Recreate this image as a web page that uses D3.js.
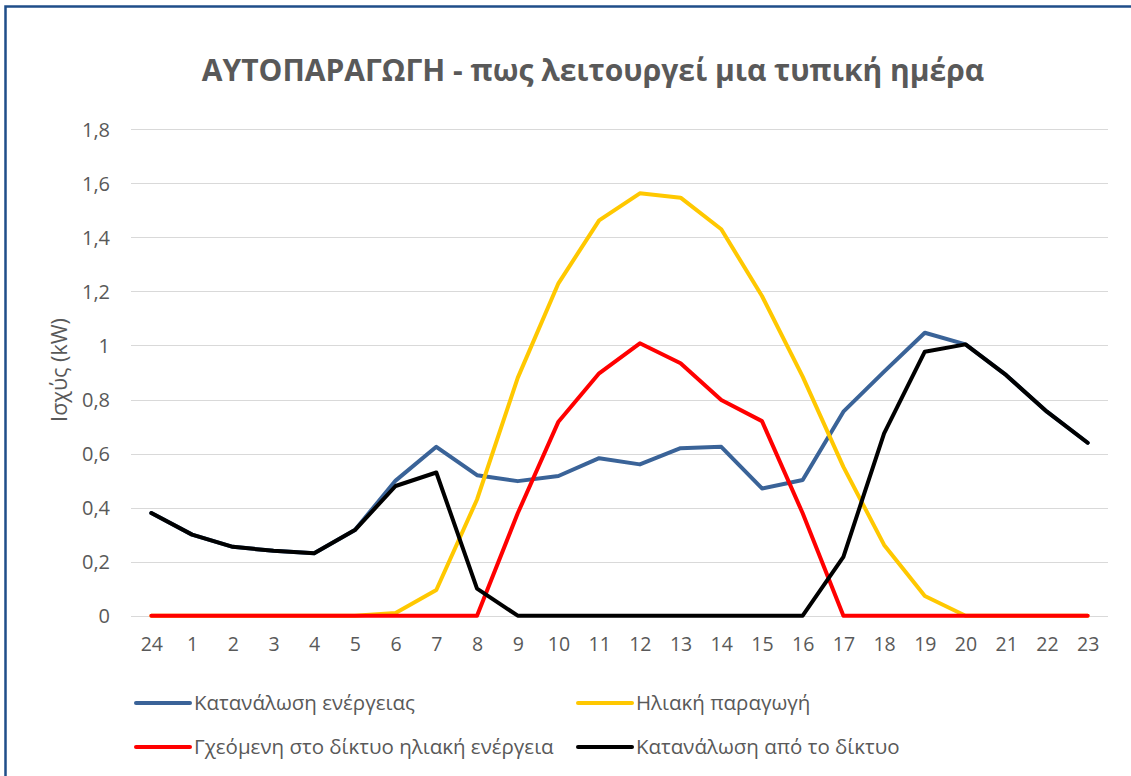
<!DOCTYPE html>
<html>
<head>
<meta charset="utf-8">
<script src="https://cdn.jsdelivr.net/npm/d3@7"></script>
<style>
  html, body { margin: 0; padding: 0; background: #fff; }
  svg text { font-family: "Open Sans", "Noto Sans", sans-serif; }
</style>
</head>
<body>
<svg id="chart" width="1131" height="776"></svg>
<script>
const hours = ["24","1","2","3","4","5","6","7","8","9","10","11","12","13","14","15","16","17","18","19","20","21","22","23"];
const consumption = [0.38,0.30,0.255,0.24,0.231,0.317,0.50,0.625,0.52,0.498,0.517,0.583,0.56,0.62,0.625,0.471,0.502,0.755,0.903,1.047,1.004,0.89,0.755,0.64];
const solar = [0,0,0,0,0,0,0.01,0.095,0.43,0.88,1.23,1.463,1.563,1.547,1.43,1.183,0.885,0.551,0.262,0.073,0,0,0,0];
const injected = [0,0,0,0,0,0,0,0,0,0.379,0.718,0.897,1.008,0.934,0.798,0.72,0.379,0,0,0,0,0,0,0];
const fromGrid = [0.38,0.30,0.255,0.24,0.231,0.317,0.48,0.53,0.10,0,0,0,0,0,0,0,0,0.218,0.675,0.977,1.004,0.89,0.755,0.64];
const yTicks = [0,0.2,0.4,0.6,0.8,1,1.2,1.4,1.6,1.8];
const seriesNames = ["Κατανάλωση ενέργειας","Ηλιακή παραγωγή","Γχεόμενη στο δίκτυο ηλιακή ενέργεια","Κατανάλωση από το δίκτυο"];
const seriesColors = ["#3A6398","#FFC800","#FF0000","#000000"];
const titleText = "ΑΥΤΟΠΑΡΑΓΩΓΗ - πως λειτουργεί μια τυπική ημέρα";
const yTitle = "Ισχύς (kW)";

const svg = d3.select("#chart");
const pLeft = 131, pRight = 1108, pTop = 129.3, pBottom = 615.7;

// border
svg.append("path").attr("d", `M5.5,800 L5.5,6.5 L1200,6.5`).attr("fill","none")
  .attr("stroke","#1F4E89").attr("stroke-width",2.5);

const x = d3.scalePoint().domain(hours).range([pLeft, pRight]).padding(0.5);
const y = d3.scaleLinear().domain([0,1.8]).range([pBottom, pTop]);
const fmt = v => d3.format("")(v).replace(".", ",");

// gridlines
svg.append("g").selectAll("line").data(yTicks).join("line")
  .attr("x1", pLeft).attr("x2", pRight)
  .attr("y1", d => Math.round(y(d)) + 0.5).attr("y2", d => Math.round(y(d)) + 0.5)
  .attr("stroke", "#D9D9D9").attr("stroke-width", 1);

// y axis
const yAxis = d3.axisLeft(y).tickValues(yTicks).tickFormat(fmt).tickSize(0).tickPadding(0);
const gy = svg.append("g").attr("transform", `translate(110,0)`).call(yAxis);
gy.select(".domain").remove();
gy.selectAll("text").attr("fill","#595959").style("font-size","20px").attr("dy","0.35em");

// x axis
const xAxis = d3.axisBottom(x).tickSize(0).tickPadding(0);
const gx = svg.append("g").attr("transform", `translate(0,637)`).call(xAxis);
gx.select(".domain").remove();
gx.selectAll("text").attr("fill","#595959").style("font-size","19.5px").attr("dy","0.71em");

// titles
svg.append("text").attr("x", 593).attr("y", 81).attr("text-anchor","middle")
  .attr("fill","#595959").style("font-size","30px").style("font-weight","bold").text(titleText);
svg.append("text").attr("transform","translate(67,370) rotate(-90)").attr("text-anchor","middle")
  .attr("fill","#595959").style("font-size","21.5px").text(yTitle);

// lines
const allSeries = [consumption, solar, injected, fromGrid];
const line = d3.line().x((d,i) => x(hours[i])).y(d => y(d));
[0,1,2,3].forEach(k => {
  svg.append("path").datum(allSeries[k]).attr("d", line)
    .attr("fill","none").attr("stroke", seriesColors[k]).attr("stroke-width", 4)
    .attr("stroke-linejoin","round").attr("stroke-linecap","round");
});

// legend
const legPos = [[136,703],[578,703],[136,747],[578,747]];
seriesNames.forEach((name,k) => {
  const [lx, ly] = legPos[k];
  svg.append("line").attr("x1", lx).attr("x2", lx + 54).attr("y1", ly).attr("y2", ly)
    .attr("stroke", seriesColors[k]).attr("stroke-width", 4).attr("stroke-linecap","round");
  svg.append("text").attr("x", lx + 58).attr("y", ly).attr("dy","0.35em")
    .attr("fill","#595959").style("font-size","20.5px").text(name);
});
</script>
</body>
</html>
